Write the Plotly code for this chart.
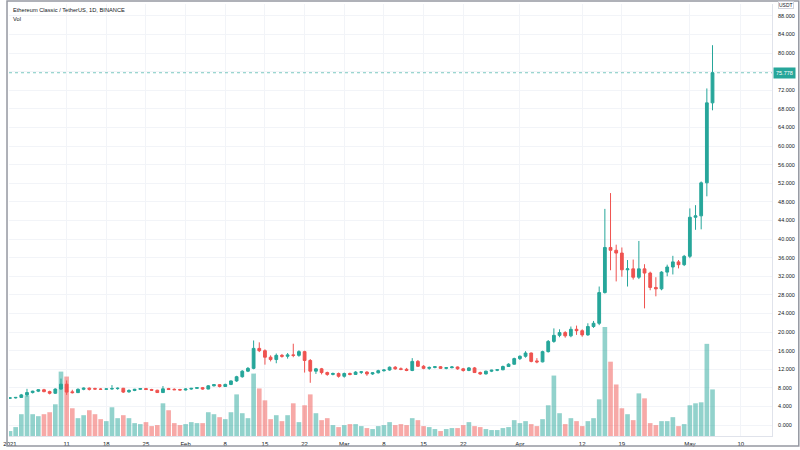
import pandas as pd
import plotly.graph_objects as go

# ETC/USDT daily candles, 1 Jan - 5 May 2021
dates = pd.date_range("2021-01-01", periods=125, freq="D")

opens = [5.80, 5.85, 5.95, 6.50, 7.00, 7.30, 7.60, 7.20, 6.85, 7.75,
         8.80, 7.15, 6.98, 7.70, 7.95, 7.85, 7.75, 7.70, 7.78, 7.85,
         7.92, 7.15, 7.45, 7.70, 7.85, 7.65, 7.50, 7.00, 7.85, 7.70,
         7.65, 7.55, 7.75, 7.90, 8.05, 7.75, 8.45, 8.70, 8.30, 8.75,
         9.50, 10.40, 11.60, 12.20, 16.50, 16.00, 14.60, 14.10, 15.00, 14.80,
         15.10, 15.00, 15.80, 13.90, 11.60, 12.10, 11.30, 10.90, 11.10, 10.50,
         11.10, 10.90, 11.35, 11.40, 11.00, 11.25, 11.70, 11.85, 12.45, 12.10,
         12.00, 11.75, 13.70, 12.65, 12.20, 12.40, 12.55, 12.20, 12.35, 12.50,
         12.10, 11.75, 12.30, 11.30, 11.00, 11.60, 11.80, 11.90, 12.60, 13.10,
         14.30, 14.80, 15.50, 13.80, 13.60, 15.80, 18.00, 19.30, 19.90, 19.20,
         20.60, 20.30, 19.40, 21.20, 21.90, 28.50, 38.20, 37.60, 37.00, 33.40,
         33.60, 31.80, 33.60, 32.70, 29.60, 29.30, 32.90, 34.00, 35.10, 34.50,
         36.30, 44.70, 45.00, 52.10, 69.30]
highs = [5.95, 6.05, 6.70, 7.80, 7.40, 7.70, 7.80, 7.40, 7.90, 10.00,
         9.60, 7.60, 7.90, 8.10, 8.10, 8.05, 7.95, 7.90, 8.60, 8.10,
         8.00, 7.70, 7.80, 7.95, 8.00, 7.80, 7.60, 8.40, 8.00, 7.90,
         7.80, 7.90, 8.00, 8.15, 8.20, 8.60, 8.80, 8.80, 8.90, 9.60,
         10.60, 11.80, 12.50, 18.20, 17.80, 16.30, 15.00, 15.40, 15.30, 15.50,
         17.50, 16.10, 16.00, 14.20, 12.30, 12.30, 11.50, 11.30, 11.30, 11.30,
         11.30, 11.60, 11.60, 11.60, 11.40, 11.90, 12.00, 12.60, 12.70, 12.40,
         12.30, 14.40, 14.00, 12.90, 12.60, 12.70, 12.70, 12.50, 12.70, 12.60,
         12.30, 12.50, 12.50, 11.50, 11.70, 11.90, 12.00, 12.80, 13.30, 14.50,
         15.00, 15.90, 15.60, 14.40, 16.00, 18.30, 20.80, 20.60, 20.20, 21.20,
         21.40, 20.60, 21.90, 22.40, 29.80, 46.50, 49.90, 38.80, 38.20, 35.50,
         35.60, 39.60, 34.60, 33.00, 31.80, 33.10, 34.50, 36.40, 35.50, 36.60,
         46.60, 47.30, 52.40, 72.40, 81.70]
lows = [5.62, 5.72, 5.85, 6.10, 6.80, 7.10, 7.05, 6.60, 6.70, 7.60,
        6.50, 6.80, 6.90, 7.50, 7.45, 7.60, 7.55, 7.60, 7.60, 7.60,
        6.90, 6.95, 7.30, 7.55, 7.60, 7.35, 6.90, 6.90, 7.60, 7.55,
        7.45, 7.45, 7.60, 7.80, 7.60, 7.70, 8.30, 8.10, 8.20, 8.60,
        9.30, 10.20, 11.40, 12.00, 15.70, 13.00, 13.70, 13.30, 14.50, 14.30,
        14.60, 14.70, 11.30, 9.10, 11.00, 10.90, 10.60, 10.70, 10.20, 10.20,
        10.70, 10.80, 11.00, 10.60, 10.80, 11.10, 11.50, 11.70, 11.90, 11.80,
        11.60, 11.60, 12.50, 12.00, 11.90, 12.20, 12.10, 12.00, 12.20, 11.90,
        11.50, 11.60, 11.20, 10.80, 10.90, 11.40, 11.60, 11.80, 12.50, 13.00,
        14.00, 14.50, 13.50, 13.30, 13.50, 15.60, 17.70, 18.90, 18.80, 18.90,
        19.40, 19.00, 19.20, 20.90, 21.50, 28.30, 33.30, 30.90, 31.90, 29.80,
        31.30, 31.40, 25.10, 29.00, 27.70, 29.00, 32.00, 32.40, 33.70, 34.20,
        35.90, 42.00, 42.10, 49.20, 67.70]
closes = [5.85, 5.95, 6.50, 7.00, 7.30, 7.60, 7.20, 6.85, 7.75, 8.80,
          7.10, 6.98, 7.70, 7.95, 7.70, 7.75, 7.70, 7.78, 7.85, 7.92,
          7.10, 7.45, 7.70, 7.85, 7.65, 7.50, 7.00, 7.80, 7.65, 7.60,
          7.55, 7.75, 7.90, 8.05, 7.75, 8.45, 8.70, 8.30, 8.75, 9.50,
          10.40, 11.60, 12.20, 16.50, 16.00, 14.60, 14.10, 15.00, 14.80, 15.10,
          15.00, 15.80, 13.90, 11.60, 12.10, 11.30, 10.90, 11.10, 10.50, 11.10,
          10.90, 11.40, 11.45, 11.00, 11.25, 11.70, 11.85, 12.45, 12.10, 12.00,
          11.75, 13.70, 12.65, 12.20, 12.40, 12.55, 12.20, 12.35, 12.50, 12.10,
          11.75, 12.30, 11.30, 11.00, 11.60, 11.80, 11.90, 12.60, 13.10, 14.30,
          14.80, 15.50, 13.70, 13.60, 15.80, 18.00, 19.30, 19.90, 19.20, 20.60,
          20.30, 19.40, 21.20, 21.90, 28.50, 38.20, 37.60, 37.00, 33.40, 33.60,
          31.80, 33.60, 32.70, 29.60, 29.30, 32.90, 34.00, 35.10, 34.50, 36.30,
          44.70, 45.00, 52.10, 69.30, 75.778]
volumes = [5, 9, 22, 41, 22, 20, 22, 24, 32, 65,
           60, 28, 18, 21, 26, 22, 17, 15, 29, 18,
           21, 18, 13, 12, 14, 10, 11, 33, 26, 13,
           11, 12, 14, 13, 13, 24, 22, 19, 17, 24,
           42, 23, 18, 63, 48, 36, 17, 21, 15, 21,
           33, 14, 31, 42, 23, 16, 18, 11, 9, 11,
           12, 12, 10, 8, 7, 10, 11, 14, 11, 12,
           11, 18, 16, 10, 9, 7, 5, 7, 8, 8,
           11, 14, 10, 9, 7, 6, 6, 8, 9, 16,
           13, 15, 12, 10, 17, 31, 61, 23, 12, 18,
           15, 10, 15, 18, 37, 110, 75, 52, 28, 22,
           16, 43, 38, 13, 11, 15, 15, 19, 10, 12,
           31, 33, 34, 93, 47]

tick_dates = ["2021-01-01", "2021-01-11", "2021-01-18", "2021-01-25",
              "2021-02-01", "2021-02-08", "2021-02-15", "2021-02-22",
              "2021-03-01", "2021-03-08", "2021-03-15", "2021-03-22",
              "2021-04-01", "2021-04-12", "2021-04-19", "2021-05-01",
              "2021-05-10"]
tick_text = ["2021", "11", "18", "25", "Feb", "8", "15", "22", "Mar",
             "8", "15", "22", "Apr", "12", "19", "May", "10"]
price_ticks = list(range(0, 92, 4))

up = "#26a69a"
down = "#ef5350"
last_price = closes[-1]
top_tick = price_ticks[-1]
y_lo, y_hi = -2.344, 90.56

# 76 is hidden under the last-price tag; the top label is drawn separately
price_text = ["" if abs(v - last_price) < 2 or v == top_tick else f"{v:.3f}"
              for v in price_ticks]

vol_colors = ["rgba(38,166,154,0.5)" if c >= o else "rgba(239,83,80,0.5)"
              for o, c in zip(opens, closes)]

fig = go.Figure()

# volume sits on the base axis so it is drawn behind the candles
fig.add_trace(go.Bar(
    x=dates, y=volumes, marker_color=vol_colors, marker_line_width=0,
    width=0.82 * 86400000, yaxis="y", showlegend=False))

fig.add_trace(go.Candlestick(
    x=dates, open=opens, high=highs, low=lows, close=closes,
    increasing=dict(line=dict(color=up, width=1), fillcolor=up),
    decreasing=dict(line=dict(color=down, width=1), fillcolor=down),
    whiskerwidth=0, yaxis="y2", showlegend=False))

font = "Liberation Sans, Arial, sans-serif"
fig.update_layout(
    width=800, height=450,
    margin=dict(l=3, r=28, t=4, b=10),
    paper_bgcolor="white", plot_bgcolor="white",
    font=dict(family=font, size=6, color="#131722"),
    xaxis=dict(
        type="date",
        range=["2020-12-31 19:48", "2021-05-15 12:00"],
        tickvals=tick_dates, ticktext=tick_text,
        ticklabeloverflow="allow",
        showgrid=True, gridcolor="#f2f4f8", gridwidth=1,
        showline=True, linecolor="#e0e3eb", linewidth=1,
        ticks="outside", ticklen=2, tickcolor="rgba(0,0,0,0)",
        tickfont=dict(size=6, color="#131722"),
        rangeslider=dict(visible=False), zeroline=False),
    yaxis=dict(range=[0, 436], visible=False, showgrid=False, fixedrange=True),
    yaxis2=dict(
        overlaying="y", side="right",
        range=[y_lo, y_hi],
        tickvals=price_ticks, ticktext=price_text,
        ticklabeloverflow="allow",
        showgrid=True, gridcolor="#f2f4f8", gridwidth=1,
        showline=True, linecolor="#e0e3eb", linewidth=1,
        ticks="outside", ticklen=4, tickcolor="rgba(0,0,0,0)",
        tickfont=dict(size=5.5, color="#131722"), zeroline=False),
)

# last price dotted line and tag
fig.add_shape(type="line", xref="paper", x0=0, x1=1, yref="y2",
              y0=last_price, y1=last_price,
              line=dict(color="rgba(38,166,154,0.6)", width=1, dash="dot"))
fig.add_annotation(x=1.001, xref="paper", xanchor="left", y=last_price,
                   yref="y2", text="75.778", showarrow=False,
                   bgcolor=up, font=dict(color="white", size=5.5),
                   borderpad=2)

# currency box in the top-right corner
fig.add_annotation(x=1 + 6 / 769, xref="paper", xanchor="left",
                   y=1 + 3 / 436, yref="paper", yanchor="top", text="USDT",
                   showarrow=False, bgcolor="rgba(0,0,0,0)",
                   bordercolor="#d1d4dc", borderwidth=1, borderpad=0,
                   font=dict(size=5, color="#131722"))

# top price label, placed in paper units just under the currency box
fig.add_annotation(x=1 + 5 / 769, xref="paper", xanchor="left",
                   y=(top_tick - y_lo) / (y_hi - y_lo), yref="paper",
                   yanchor="middle", text=f"{top_tick:.3f}",
                   showarrow=False, borderpad=0,
                   font=dict(size=5.5, color="#131722"))

# legend text in the top-left corner
fig.add_annotation(x=0.002, xref="paper", xanchor="left", y=0.998,
                   yref="paper", yanchor="top",
                   text="Ethereum Classic / TetherUS, 1D, BINANCE",
                   showarrow=False, font=dict(size=5.7, color="#131722"))
fig.add_annotation(x=0.002, xref="paper", xanchor="left", y=0.977,
                   yref="paper", yanchor="top", text="Vol",
                   showarrow=False, font=dict(size=5.7, color="#131722"))

# outer frame of the screenshot
fig.add_shape(type="rect", xref="paper", yref="paper",
              x0=-2 / 769, x1=1 + 27 / 769, y0=-10 / 436, y1=1 + 3 / 436,
              line=dict(color="#9598a1", width=1.5))

# the page's default body margin would push the 800x450 figure off-screen
fig.write_html("out.html",
               config={"displayModeBar": False},
               post_script="document.body.style.margin='0';"
                           "document.body.style.overflow='hidden';")
